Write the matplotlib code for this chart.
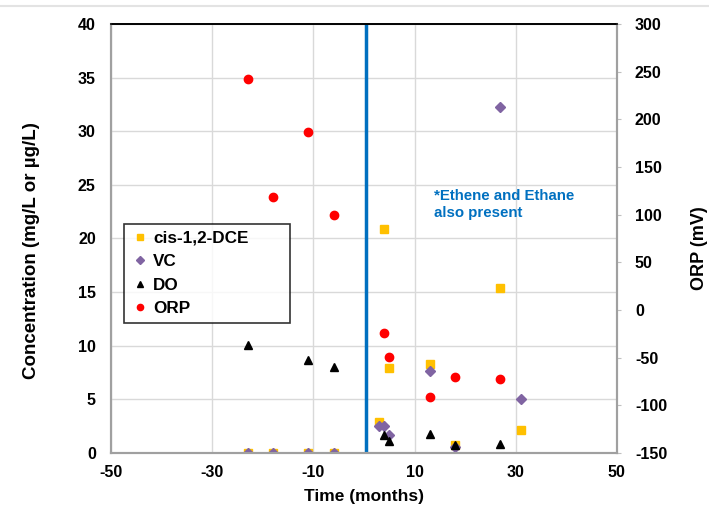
import numpy as np
import matplotlib.pyplot as plt

plt.rcParams['font.family'] = ['Liberation Sans', 'DejaVu Sans']
plt.rcParams['font.weight'] = 'bold'
plt.rcParams['axes.unicode_minus'] = False

# data
dce_t = [-23, -18, -11, -6, 3, 4, 5, 13, 18, 27, 31]
dce_v = [0, 0, 0, 0, 2.9, 20.9, 7.9, 8.3, 0.7, 15.4, 2.1]
vc_t = [-23, -18, -11, -6, 3, 4, 5, 13, 18, 27, 31]
vc_v = [0, 0, 0, 0, 2.5, 2.5, 1.7, 7.6, 0.6, 32.3, 5.0]
do_t = [-23, -11, -6, 4, 5, 13, 18, 27]
do_v = [10.1, 8.7, 8.0, 1.7, 1.1, 1.8, 0.7, 0.8]
orp_t = [-23, -18, -11, -6, 4, 5, 13, 18, 27]
orp_v = [242, 119, 187, 100, -24, -49, -91, -70, -72]

fig = plt.figure(figsize=(7.09, 5.19), dpi=100)
ax = fig.add_axes([0.1566, 0.1272, 0.7134, 0.8266])
ax2 = ax.twinx()

# faint outer frame line at the top of the picture
fig.add_artist(plt.Line2D([0, 1], [1 - 6 / 519] * 2, color='#e3e3e3', linewidth=1.5))

ax.set_xlim(-50, 50)
ax.set_ylim(0, 40)
ax2.set_ylim(-150, 300)
ax.set_xticks(np.arange(-50, 51, 20))
ax.set_yticks(np.arange(0, 41, 5))
ax2.set_yticks(np.arange(-150, 301, 50))
ax.grid(True, color='#d9d9d9', linewidth=1)
ax.set_axisbelow(True)

ax.axvline(0.5, color='#0070C0', linewidth=2.5)

h1, = ax.plot(dce_t, dce_v, 's', color='#FFC000', markersize=6.3, label='cis-1,2-DCE', zorder=3)
h2, = ax.plot(vc_t, vc_v, 'D', color='#8064A2', markersize=5, label='VC', zorder=3)
h3, = ax.plot(do_t, do_v, '^', color='black', markersize=6, label='DO', zorder=3)
h4, = ax2.plot(orp_t, orp_v, 'o', color='#FF0000', markersize=6, label='ORP', zorder=3)

ax.text(13.8, 24.6, '*Ethene and Ethane\nalso present', color='#0070C0',
        fontsize=10.8, fontweight='bold', va='top', linespacing=1.25)

for a in (ax, ax2):
    a.spines['top'].set_color('black')
    a.spines['top'].set_linewidth(1.2)
    for s in ('left', 'right', 'bottom'):
        a.spines[s].set_color('#a0a0a0')
        a.spines[s].set_linewidth(1.5)
ax.tick_params(axis='x', length=0, labelsize=11.5, pad=9)
ax.tick_params(axis='y', length=0, labelsize=11.5, pad=11)
ax2.tick_params(axis='y', length=3, color='#c0c0c0', labelsize=11.5, pad=10)

ax.set_xlabel('Time (months)', fontsize=12.5, fontweight='bold')
ax.set_ylabel('Concentration (mg/L or µg/L)', fontsize=13.5, fontweight='bold')
ax2.set_ylabel('ORP (mV)', fontsize=13, fontweight='bold')
ax.xaxis.set_label_coords(0.5, -0.085)
ax.yaxis.set_label_coords(-0.141, 0.471)
ax2.yaxis.set_label_coords(1.147, 0.478)

leg = ax.legend(handles=[h1, h2, h3, h4], loc='upper left',
                bbox_to_anchor=(0.026, 0.534, 0.328, 0.0), mode='expand',
                fontsize=12.3, frameon=True, fancybox=False, edgecolor='black',
                handletextpad=0.3, handlelength=1.0, borderpad=0.4, labelspacing=0.5,
                markerscale=0.75, borderaxespad=0)
leg.get_frame().set_linewidth(1.2)
leg.set_zorder(5)

fig.savefig('out.png', dpi=100)
